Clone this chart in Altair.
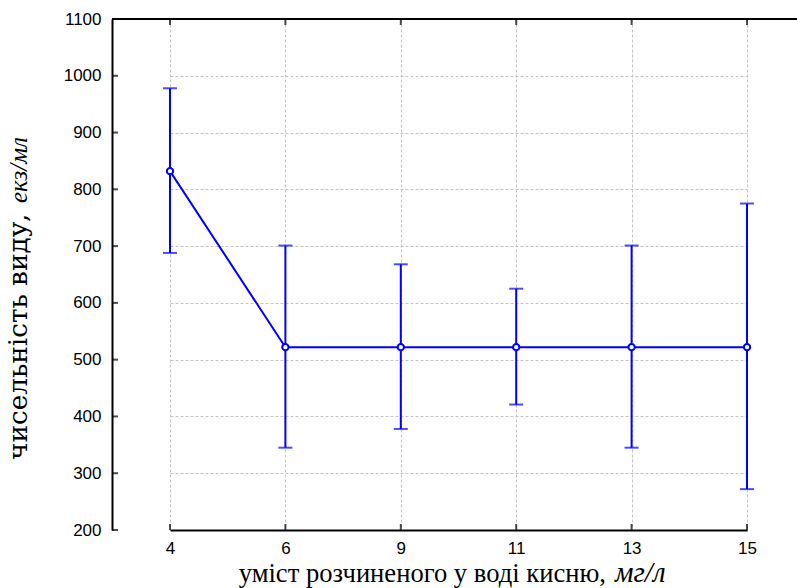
import altair as alt
import pandas as pd

# data
oxygen = ["4", "6", "9", "11", "13", "15"]
mean_vals = [832, 522, 522, 522, 522, 522]
low_vals = [688, 345, 378, 421, 345, 272]
high_vals = [978, 701, 668, 625, 701, 775]
y_ticks = [200, 300, 400, 500, 600, 700, 800, 900, 1000, 1100]

x_title_main = "уміст розчиненого у воді кисню,"
x_title_unit = "мг/л"
y_title_main = "чисельність виду,"
y_title_unit = "екз/мл"

df = pd.DataFrame({"x": oxygen, "m": mean_vals, "lo": low_vals, "hi": high_vals})
ticks_df = pd.DataFrame({"v": y_ticks})
one = pd.DataFrame({"k": [0]})

W, H = 685, 511
BLUE = "#0000ff"
LBL = 17

xscale = alt.Scale(type="point", domain=oxygen, range=[58, 635], padding=0)
yscale = alt.Scale(domain=[200, 1100], nice=False, zero=False)

xenc = alt.X("x:O", scale=xscale, sort=oxygen,
             axis=alt.Axis(title=None, labelAngle=0, ticks=False, labelPadding=10,
                           labelFont="Liberation Sans", labelFontSize=LBL, labelColor="black",
                           grid=True, domain=True))
yenc_axis = alt.Y("m:Q", scale=yscale,
                  axis=alt.Axis(title=None, values=y_ticks, format="d", ticks=False,
                                labelFont="Liberation Sans", labelFontSize=LBL, labelColor="black",
                                labelPadding=11, grid=True, domain=True))

base = alt.Chart(df)
xe = alt.X("x:O", scale=xscale, sort=oxygen)

line = base.mark_line(color=BLUE, strokeWidth=2).encode(x=xenc, y=yenc_axis)

err = base.mark_rule(color=BLUE, strokeWidth=2).encode(
    x=xe, y=alt.Y("lo:Q", scale=yscale), y2="hi:Q")

cap_lo = base.mark_tick(color=BLUE, orient="horizontal", size=14, thickness=2).encode(
    x=xe, y=alt.Y("lo:Q", scale=yscale))
cap_hi = base.mark_tick(color=BLUE, orient="horizontal", size=14, thickness=2).encode(
    x=xe, y=alt.Y("hi:Q", scale=yscale))

pts = base.mark_point(shape="circle", filled=True, fill="white", stroke=BLUE,
                      strokeWidth=2, size=40, opacity=1).encode(
    x=xe, y=alt.Y("m:Q", scale=yscale))

# frame: top border and inward ticks
top_rule = alt.Chart(one).mark_rule(color="black", strokeWidth=2).encode(
    y=alt.datum(1100, scale=yscale))
xt_bottom = base.mark_tick(color="black", orient="vertical", size=6, thickness=2, yOffset=-3).encode(
    x=xe, y=alt.datum(200))
xt_top = base.mark_tick(color="black", orient="vertical", size=6, thickness=2, yOffset=3).encode(
    x=xe, y=alt.datum(1100))
yt_left = alt.Chart(ticks_df).mark_tick(color="black", orient="horizontal", size=6, thickness=2,
                                         xOffset=3).encode(
    y=alt.Y("v:Q", scale=yscale), x=alt.value(0))

SERIF = "Liberation Serif"
xt1 = alt.Chart(one).mark_text(text=x_title_main, font=SERIF,
                                fontSize=26.6, align="right", baseline="alphabetic", color="black").encode(
    x=alt.value(494), y=alt.value(563))
xt2 = alt.Chart(one).mark_text(text=x_title_unit, font=SERIF, fontStyle="italic",
                                fontSize=29, align="left", baseline="alphabetic", color="black").encode(
    x=alt.value(503), y=alt.value(563))
yt1 = alt.Chart(one).mark_text(text=y_title_main, font="DejaVu Serif", angle=270,
                                fontSize=26.3, align="left", baseline="alphabetic", color="black").encode(
    x=alt.value(-85), y=alt.value(441))
yt2 = alt.Chart(one).mark_text(text=y_title_unit, font=SERIF, fontStyle="italic", angle=270,
                                fontSize=25, align="left", baseline="alphabetic", color="black").encode(
    x=alt.value(-85), y=alt.value(184))

chart = alt.layer(line, err, cap_lo, cap_hi, pts, top_rule, xt_bottom, xt_top, yt_left,
                  xt1, xt2, yt1, yt2).properties(
    width=W, height=H,
    autosize=alt.AutoSizeParams(type="none"),
    padding={"left": 112, "top": 19, "right": 0, "bottom": 58},
    background="white",
).configure_view(stroke=None).configure_axis(
    domainColor="black", domainWidth=2,
    gridColor="#c4c4c4", gridDash=[3, 2], gridWidth=1,
)

chart.save("out.html", embed_options={"renderer": "svg", "actions": False})
